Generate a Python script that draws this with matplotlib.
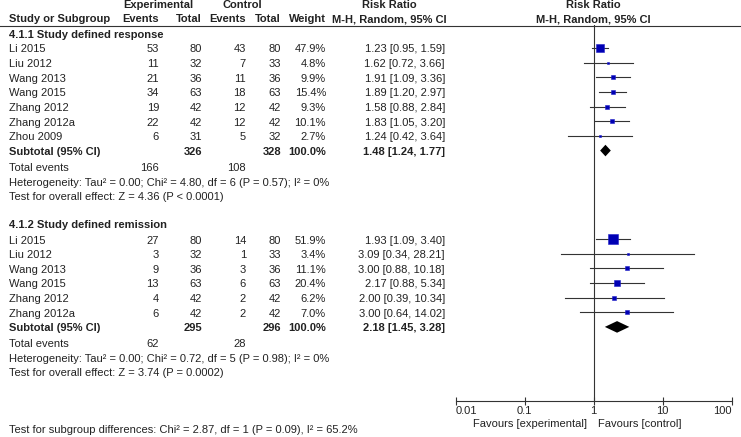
import numpy as np
import matplotlib
matplotlib.use("Agg")
import matplotlib.pyplot as plt

plt.rcParams['font.family'] = ['Liberation Sans', 'DejaVu Sans']
plt.rcParams['font.size'] = 8

# subgroup 4.1.1
g1_names = ['Li 2015', 'Liu 2012', 'Wang 2013', 'Wang 2015', 'Zhang 2012', 'Zhang 2012a', 'Zhou 2009']
g1_exp_events = [53, 11, 21, 34, 19, 22, 6]
g1_exp_total = [80, 32, 36, 63, 42, 42, 31]
g1_ctl_events = [43, 7, 11, 18, 12, 12, 5]
g1_ctl_total = [80, 33, 36, 63, 42, 42, 32]
g1_weight = [47.9, 4.8, 9.9, 15.4, 9.3, 10.1, 2.7]
g1_rr = [1.23, 1.62, 1.91, 1.89, 1.58, 1.83, 1.24]
g1_lo = [0.95, 0.72, 1.09, 1.20, 0.88, 1.05, 0.42]
g1_hi = [1.59, 3.66, 3.36, 2.97, 2.84, 3.20, 3.64]
g1_sub = [1.48, 1.24, 1.77]

# subgroup 4.1.2
g2_names = ['Li 2015', 'Liu 2012', 'Wang 2013', 'Wang 2015', 'Zhang 2012', 'Zhang 2012a']
g2_exp_events = [27, 3, 9, 13, 4, 6]
g2_exp_total = [80, 32, 36, 63, 42, 42]
g2_ctl_events = [14, 1, 3, 6, 2, 2]
g2_ctl_total = [80, 33, 36, 63, 42, 42]
g2_weight = [51.9, 3.4, 11.1, 20.4, 6.2, 7.0]
g2_rr = [1.93, 3.09, 3.00, 2.17, 2.00, 3.00]
g2_lo = [1.09, 0.34, 0.88, 0.88, 0.39, 0.64]
g2_hi = [3.40, 28.21, 10.18, 5.34, 10.34, 14.02]
g2_sub = [2.18, 1.45, 3.28]

ticks = [0.01, 0.1, 1, 10, 100]
tick_labels = ['0.01', '0.1', '1', '10', '100']

W, H = 741, 437
fig = plt.figure(figsize=(W / 100, H / 100), dpi=100)

# text layer in pixel coordinates
ax = fig.add_axes([0, 0, 1, 1])
ax.set_xlim(0, W)
ax.set_ylim(H, 0)
ax.axis('off')

# forest layer, log x, same pixel y
x0, x1, ytop, ybot = 455.7, 731.7, 25, 400.5
fax = fig.add_axes([x0 / W, (H - ybot) / H, (x1 - x0) / W, (ybot - ytop) / H])
fax.set_xscale('log')
fax.set_xlim(0.01, 100)
fax.set_ylim(ybot, ytop)
fax.patch.set_alpha(0)
for s in ['top', 'left', 'right']:
    fax.spines[s].set_visible(False)
fax.spines['bottom'].set_color('#333333')
fax.spines['bottom'].set_linewidth(0.8)
fax.set_yticks([])
fax.set_xticks(ticks)
fax.set_xticklabels(tick_labels)
fax.minorticks_off()
fax.tick_params(axis='x', direction='inout', length=6, width=0.8, color='#333333',
                pad=1, labelsize=8, labelcolor='#222222')
labs = fax.get_xticklabels()
labs[0].set_ha('left')
labs[-1].set_ha('right')
fax.axvline(1, color='#333333', lw=0.8)

txt = '#222222'
col_name = 9
col_ee, col_et, col_ce, col_ct, col_w, col_ci = 159, 202, 246, 281, 326, 445
col_ci_c = 389

# headers
bold = dict(fontweight='bold', color=txt, va='center')
ax.text(158, 5, 'Experimental', ha='center', **bold)
ax.text(242, 5, 'Control', ha='center', **bold)
ax.text(col_ci_c, 5, 'Risk Ratio', ha='center', **bold)
ax.text(593, 5, 'Risk Ratio', ha='center', **bold)
ax.text(col_name, 19, 'Study or Subgroup', ha='left', **bold)
ax.text(col_ee, 19, 'Events', ha='right', **bold)
ax.text(col_et, 19, 'Total', ha='right', **bold)
ax.text(col_ce, 19, 'Events', ha='right', **bold)
ax.text(col_ct, 19, 'Total', ha='right', **bold)
ax.text(col_w, 19, 'Weight', ha='right', **bold)
ax.text(col_ci_c, 19, 'M-H, Random, 95% CI', ha='center', **bold)
ax.text(593, 19, 'M-H, Random, 95% CI', ha='center', **bold)
ax.plot([0, W], [25.5, 25.5], color='#333333', lw=0.8)

step = 14.65


def draw_group(ytitle, title, names, ee, et, ce, ct, w, rr, lo, hi, sub, het, test):
    ax.text(col_name, ytitle, title, ha='left', **bold)
    y = ytitle + 15
    for i in range(len(names)):
        yy = y + i * step
        ax.text(col_name, yy, names[i], ha='left', va='center', color=txt)
        ax.text(col_ee, yy, str(ee[i]), ha='right', va='center', color=txt)
        ax.text(col_et, yy, str(et[i]), ha='right', va='center', color=txt)
        ax.text(col_ce, yy, str(ce[i]), ha='right', va='center', color=txt)
        ax.text(col_ct, yy, str(ct[i]), ha='right', va='center', color=txt)
        ax.text(col_w, yy, f'{w[i]:.1f}%', ha='right', va='center', color=txt)
        ax.text(col_ci, yy, f'{rr[i]:.2f} [{lo[i]:.2f}, {hi[i]:.2f}]', ha='right', va='center', color=txt)
        ym = yy - 1.5
        fax.plot([lo[i], hi[i]], [ym, ym], color='#333333', lw=0.8)
        side = 1.27 * np.sqrt(w[i]) * 0.72
        fax.plot(rr[i], ym, marker='s', ms=side, mfc='#0000b4', mec='#2020c8', mew=0.4)
    ys = y + len(names) * step
    ax.text(col_name, ys, 'Subtotal (95% CI)', ha='left', **bold)
    ax.text(col_et, ys, str(sum(et)), ha='right', **bold)
    ax.text(col_ct, ys, str(sum(ct)), ha='right', **bold)
    ax.text(col_w, ys, '100.0%', ha='right', **bold)
    ax.text(col_ci, ys, f'{sub[0]:.2f} [{sub[1]:.2f}, {sub[2]:.2f}]', ha='right', **bold)
    yd = ys - 1.5
    hh = 5.8
    fax.fill([sub[1], sub[0], sub[2], sub[0]], [yd, yd - hh, yd, yd + hh], color='black', lw=0)
    yt = ys + 16
    ax.text(col_name, yt, 'Total events', ha='left', va='center', color=txt)
    ax.text(col_ee, yt, str(sum(ee)), ha='right', va='center', color=txt)
    ax.text(col_ce, yt, str(sum(ce)), ha='right', va='center', color=txt)
    ax.text(col_name, yt + 14.5, het, ha='left', va='center', color=txt)
    ax.text(col_name, yt + 29, test, ha='left', va='center', color=txt)


draw_group(34.5, '4.1.1 Study defined response', g1_names, g1_exp_events, g1_exp_total,
           g1_ctl_events, g1_ctl_total, g1_weight, g1_rr, g1_lo, g1_hi, g1_sub,
           'Heterogeneity: Tau² = 0.00; Chi² = 4.80, df = 6 (P = 0.57); I² = 0%',
           'Test for overall effect: Z = 4.36 (P < 0.0001)')
draw_group(225.5, '4.1.2 Study defined remission', g2_names, g2_exp_events, g2_exp_total,
           g2_ctl_events, g2_ctl_total, g2_weight, g2_rr, g2_lo, g2_hi, g2_sub,
           'Heterogeneity: Tau² = 0.00; Chi² = 0.72, df = 5 (P = 0.98); I² = 0%',
           'Test for overall effect: Z = 3.74 (P = 0.0002)')

ax.text(587, 424, 'Favours [experimental]', ha='right', va='center', color=txt)
ax.text(598, 424, 'Favours [control]', ha='left', va='center', color=txt)
ax.text(col_name, 430, 'Test for subgroup differences: Chi² = 2.87, df = 1 (P = 0.09), I² = 65.2%',
        ha='left', va='center', color=txt)

fig.savefig('out.png', dpi=100)
